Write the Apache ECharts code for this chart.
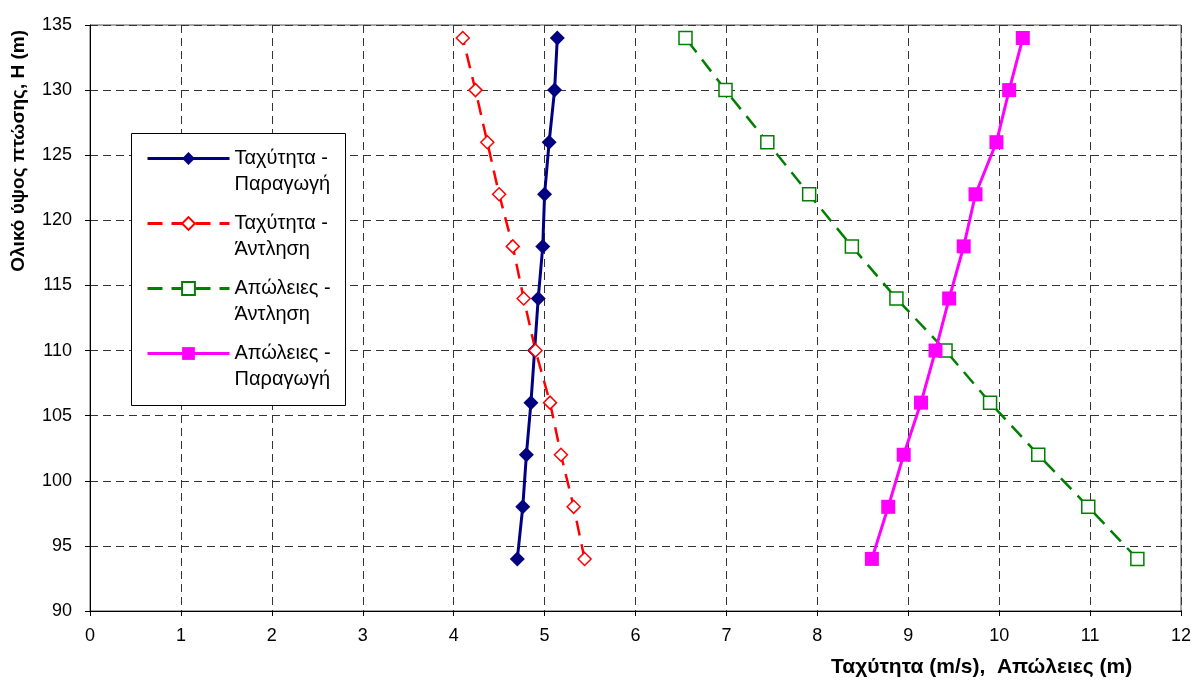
<!DOCTYPE html>
<html>
<head>
<meta charset="utf-8">
<script src="https://cdn.jsdelivr.net/npm/echarts@6/dist/echarts.min.js"></script>
<style>
html,body{margin:0;padding:0;background:#fff;}
#chart{width:1195px;height:682px;}
</style>
</head>
<body>
<div id="chart"></div>
<script>
// Heights H (m) – y values
const heights = [94, 98, 102, 106, 110, 114, 118, 122, 126, 130, 134];
// Series x values
const velProduction = [4.70, 4.76, 4.80, 4.85, 4.89, 4.93, 4.98, 5.00, 5.05, 5.11, 5.14];
const velPumping    = [5.44, 5.32, 5.18, 5.06, 4.90, 4.77, 4.65, 4.50, 4.37, 4.24, 4.10];
const lossPumping   = [11.52, 10.98, 10.43, 9.90, 9.41, 8.87, 8.38, 7.91, 7.45, 6.99, 6.55];
const lossProduction= [8.60, 8.78, 8.95, 9.14, 9.30, 9.45, 9.61, 9.74, 9.97, 10.11, 10.26];
const seriesNames = ['Ταχύτητα - Παραγωγή', 'Ταχύτητα - Άντληση', 'Απώλειες - Άντληση', 'Απώλειες - Παραγωγή'];
const legendLabels = ['Ταχύτητα -\nΠαραγωγή', 'Ταχύτητα -\nΆντληση', 'Απώλειες -\nΆντληση', 'Απώλειες -\nΠαραγωγή'];
const xTicks = {min: 0, max: 12, interval: 1};
const yTicks = {min: 90, max: 135, interval: 5};
const xTitle = 'Ταχύτητα (m/s),  Απώλειες (m)';
const yTitle = 'Ολικό ύψος πτώσης, H (m)';

const pairs = arr => arr.map((v, i) => [v, heights[i]]);

const chart = echarts.init(document.getElementById('chart'));
const font = 'Liberation Sans, Arial, sans-serif';
const gridLine = {show: true, lineStyle: {color: '#333', type: [8, 5], width: 1}};

const option = {
  animation: false,
  backgroundColor: '#fff',
  textStyle: {fontFamily: font},
  grid: {left: 90, right: 14, top: 25, bottom: 71, show: true, borderColor: '#555', borderWidth: 1},
  xAxis: {
    type: 'value', min: xTicks.min, max: xTicks.max, interval: xTicks.interval,
    axisLine: {show: true, onZero: false, lineStyle: {color: '#000', width: 1}},
    axisTick: {show: true, length: 5, lineStyle: {color: '#000'}},
    axisLabel: {color: '#000', fontSize: 18, fontFamily: font, margin: 16},
    splitLine: gridLine
  },
  yAxis: {
    type: 'value', min: yTicks.min, max: yTicks.max, interval: yTicks.interval,
    axisLine: {show: true, onZero: false, lineStyle: {color: '#000', width: 1}},
    axisTick: {show: true, length: 5, lineStyle: {color: '#000'}},
    axisLabel: {color: '#000', fontSize: 18, fontFamily: font, margin: 18},
    splitLine: gridLine
  },
  legend: {
    orient: 'vertical',
    left: 146, top: 119.5,
    padding: 0,
    itemWidth: 82, itemHeight: 16,
    itemGap: -13,
    data: seriesNames,
    lineStyle: {width: 3},
    formatter: name => '\n' + legendLabels[seriesNames.indexOf(name)],
    textStyle: {fontSize: 20, lineHeight: 26, color: '#000', fontFamily: font}
  },
  graphic: [
    {type: 'rect', left: 131, top: 133, z: 3,
     shape: {width: 214, height: 272},
     style: {fill: '#fff', stroke: '#000', lineWidth: 1}},
    {type: 'text', left: 9, top: 30, rotation: Math.PI / 2,
     style: {text: yTitle, font: 'bold 19px ' + font, fill: '#000'}},
    {type: 'text', left: 831, top: 657,
     style: {text: xTitle, font: 'bold 21px ' + font, fill: '#000'}}
  ],
  series: [
    {name: seriesNames[0], type: 'line', data: pairs(velProduction),
     symbol: 'diamond', symbolSize: 15, showSymbol: true,
     lineStyle: {color: '#000080', width: 3}, itemStyle: {color: '#000080'}},
    {name: seriesNames[1], type: 'line', data: pairs(velPumping),
     symbol: 'diamond', symbolSize: 13,
     lineStyle: {color: '#ff0000', width: 2.5, type: [15, 9]},
     itemStyle: {color: '#fff', borderColor: '#ff0000', borderWidth: 1.5}},
    {name: seriesNames[2], type: 'line', data: pairs(lossPumping),
     symbol: 'rect', symbolSize: 13,
     lineStyle: {color: '#008000', width: 2.5, type: [15, 9]},
     itemStyle: {color: '#fff', borderColor: '#008000', borderWidth: 1.5}},
    {name: seriesNames[3], type: 'line', data: pairs(lossProduction),
     symbol: 'rect', symbolSize: 14,
     lineStyle: {color: '#ff00ff', width: 3}, itemStyle: {color: '#ff00ff'}}
  ]
};
chart.setOption(option);
</script>
</body>
</html>
